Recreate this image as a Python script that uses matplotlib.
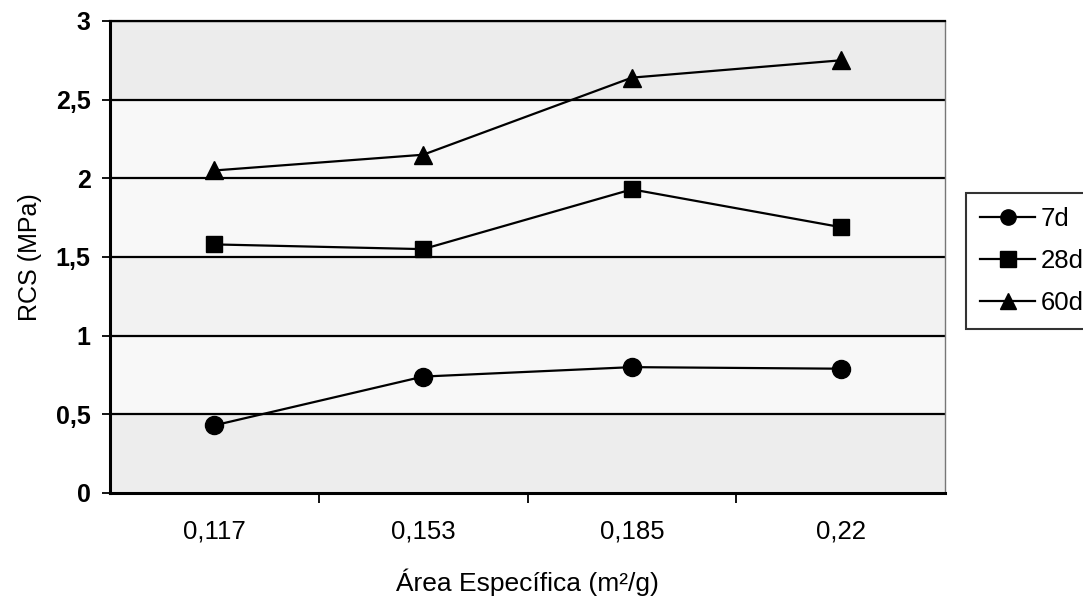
import numpy as np
import matplotlib
matplotlib.use("Agg")
import matplotlib.pyplot as plt

plt.rcParams['font.family'] = ['Liberation Sans', 'DejaVu Sans']

# data
areas = ["0,117", "0,153", "0,185", "0,22"]
rcs_7d = [0.43, 0.74, 0.80, 0.79]
rcs_28d = [1.58, 1.55, 1.93, 1.69]
rcs_60d = [2.05, 2.15, 2.64, 2.75]
y_ticks = [0, 0.5, 1, 1.5, 2, 2.5, 3]
y_tick_labels = ["0", "0,5", "1", "1,5", "2", "2,5", "3"]

fig = plt.figure(figsize=(10.83, 6), dpi=100)
ax = fig.add_axes([110 / 1083, 1 - 493 / 600, 835 / 1083, 472 / 600])
ax.set_facecolor('#f8f8f8')

# speckled scan bands (denser at top, bottom and middle)
ax.axhspan(2.5, 3, color='#ececec', zorder=0)
ax.axhspan(0, 0.5, color='#ededed', zorder=0)
ax.axhspan(1, 1.5, color='#f2f2f2', zorder=0)

x = np.arange(len(areas))
ax.plot(x, rcs_7d, color='black', lw=1.6, marker='o', ms=13, label='7d', zorder=3)
ax.plot(x, rcs_28d, color='black', lw=1.6, marker='s', ms=11.5, label='28d', zorder=3)
ax.plot(x, rcs_60d, color='black', lw=1.6, marker='^', ms=12.5, label='60d', zorder=3)

ax.set_xlim(-0.5, len(areas) - 0.5)
ax.set_ylim(0, 3)
ax.set_yticks(y_ticks)
ax.set_yticklabels(y_tick_labels, fontsize=18, fontweight='bold')
for y in y_ticks[1:]:
    ax.axhline(y, color='black', lw=1.6, zorder=1)

ax.set_xticks(x)
ax.set_xticklabels(areas, fontsize=18.5)
ax.set_xticks(np.arange(0.5, len(areas) - 0.5, 1), minor=True)
ax.tick_params(axis='x', which='major', length=0, pad=19)
ax.tick_params(axis='x', which='minor', length=7, width=1.3, direction='out')
ax.tick_params(axis='y', length=6, width=1.3, direction='out', pad=8)

ax.spines['left'].set_linewidth(2.2)
ax.spines['bottom'].set_linewidth(2.2)
ax.spines['top'].set_linewidth(1.6)
ax.spines['right'].set_color('#777777')
ax.spines['right'].set_linewidth(1.0)

ax.set_ylabel("RCS (MPa)", fontsize=18, labelpad=10)
ax.set_xlabel("Área Específica (m²/g)", fontsize=19, labelpad=18)

leg = fig.legend(loc='upper left', bbox_to_anchor=(966 / 1083, 1 - 193 / 600),
                 fontsize=18.5, frameon=True, fancybox=False, edgecolor='black',
                 handlelength=2.15, handletextpad=0.2, labelspacing=0.7,
                 borderaxespad=0, borderpad=0.55)
leg.get_frame().set_linewidth(1.5)
for h in leg.legend_handles:
    h.set_markersize(11)

fig.savefig("out.png", dpi=100, facecolor='white')
